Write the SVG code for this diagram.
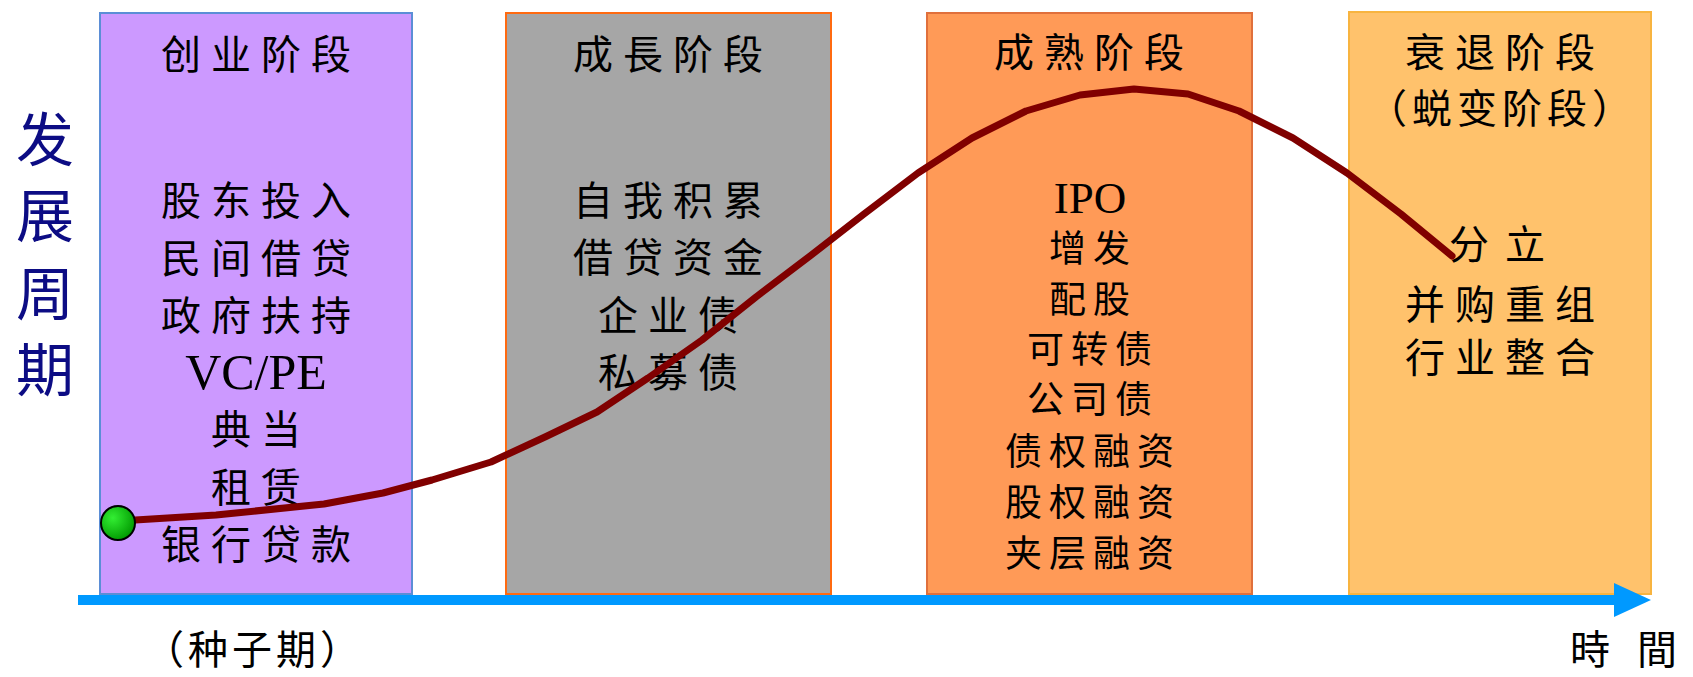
<svg xmlns="http://www.w3.org/2000/svg" width="1693" height="677" viewBox="0 0 1693 677">
<defs>
<style>
.t{font-family:"Noto Sans CJK SC","Liberation Serif",sans-serif;font-size:40px;fill:#000;text-anchor:middle;letter-spacing:10px}
.s{font-size:37px;letter-spacing:7px}
.lat{font-family:"Liberation Serif",serif;letter-spacing:0}
.v{font-family:"Noto Sans CJK SC",sans-serif;font-size:58px;fill:#0c0c84;text-anchor:middle}
</style>
<radialGradient id="g" cx="0.35" cy="0.35" r="0.7">
<stop offset="0" stop-color="#33ee33"/>
<stop offset="1" stop-color="#009900"/>
</radialGradient>
</defs>
<rect width="1693" height="677" fill="#fff"/>
<g id="stage1">
<rect x="100" y="13" width="312" height="581" fill="#CC99FF" stroke="#5B8ED6" stroke-width="2"/>
<text class="t" x="261" y="69">创业阶段</text>
<text class="t" x="261" y="215">股东投入</text>
<text class="t" x="261" y="273">民间借贷</text>
<text class="t" x="261" y="330">政府扶持</text>
<text class="t lat" x="256" y="389" style="font-size:50px">VC/PE</text>
<text class="t" x="261" y="444">典当</text>
<text class="t" x="261" y="502">租赁</text>
<text class="t" x="261" y="559">银行贷款</text>
</g>
<g id="stage2">
<rect x="506" y="13" width="325" height="581" fill="#A6A6A6" stroke="#FF6A10" stroke-width="2"/>
<text class="t" x="673" y="69">成長阶段</text>
<text class="t" x="673" y="215">自我积累</text>
<text class="t" x="673" y="272">借贷资金</text>
<text class="t" x="673" y="330">企业债</text>
<text class="t" x="673" y="387">私募债</text>
</g>
<g id="stage3">
<rect x="927" y="13" width="325" height="581" fill="#FF9A57" stroke="#E0703C" stroke-width="2"/>
<text class="t" x="1094" y="67">成熟阶段</text>
<text class="t lat" x="1090" y="213" style="font-size:45px">IPO</text>
<text class="t s" x="1093" y="262">增发</text>
<text class="t s" x="1093" y="313">配股</text>
<text class="t s" x="1093" y="363">可转债</text>
<text class="t s" x="1093" y="413">公司债</text>
<text class="t s" x="1093" y="465">债权融资</text>
<text class="t s" x="1093" y="516">股权融资</text>
<text class="t s" x="1093" y="567">夹层融资</text>
</g>
<g id="stage4">
<rect x="1349" y="12" width="302" height="582" fill="#FFC26C" stroke="#F8B440" stroke-width="2"/>
<text class="t" x="1505" y="67">衰退阶段</text>
<text class="t" x="1502" y="123" style="letter-spacing:5px">（蜕变阶段）</text>
<text class="t" x="1505" y="259" style="letter-spacing:16px">分立</text>
<text class="t" x="1505" y="319">并购重组</text>
<text class="t" x="1505" y="372">行业整合</text>
</g>
<g id="labels">
<text class="v" x="45" y="161">发</text>
<text class="v" x="45" y="237">展</text>
<text class="v" x="45" y="315">周</text>
<text class="v" x="45" y="391">期</text>
<text class="t" x="254" y="664" style="letter-spacing:4px">（种子期）</text>
<text class="t" x="1570" y="664" style="text-anchor:start;font-size:40px;letter-spacing:9px" xml:space="preserve">時 間</text>
</g>
<g id="connectors">
<line x1="78" y1="600" x2="1618" y2="600" stroke="#0099FF" stroke-width="10"/>
<polygon points="1614,583 1651,600 1614,617" fill="#0099FF"/>
<polyline fill="none" stroke="#800000" stroke-width="7" stroke-linejoin="round" stroke-linecap="round" points="119,521 216,515 324,504 383,493 432,480 491,462 545,437 597,412 648,378 702,340 756,297 810,256 864,214 918,173 972,138 1026,111 1080,95 1134,89 1188,94 1239,111 1293,138 1347,173 1401,214 1452,256"/>
<circle cx="118" cy="523" r="17" fill="url(#g)" stroke="#000" stroke-width="2"/>
</g>
</svg>
